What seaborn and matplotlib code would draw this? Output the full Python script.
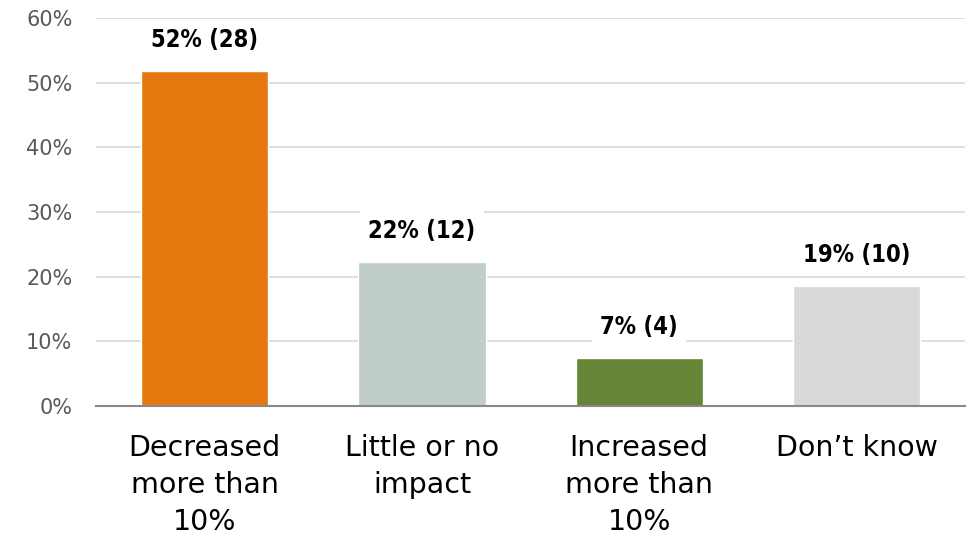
import pandas as pd
import numpy as np
import seaborn as sns
import matplotlib.pyplot as plt

categories = ["Decreased\nmore than\n10%", "Little or no\nimpact", "Increased\nmore than\n10%", "Don\u2019t know"]
counts = [28, 12, 4, 10]
shares = [51.85, 22.22, 7.41, 18.52]
labels = ["52% (28)", "22% (12)", "7% (4)", "19% (10)"]
colors = ["#e4780f", "#c1cec7", "#668536", "#d9d9d9"]

df = pd.DataFrame({"category": categories, "share": shares})

sns.set_theme(style="white")
plt.rcParams['font.family'] = ['DejaVu Sans']

fig = plt.figure(figsize=(9.7, 5.44), dpi=100)
ax = fig.add_axes([0.099, 0.254, 0.896, 0.713])

sns.barplot(data=df, x="category", y="share", hue="category", palette=colors,
            width=0.585, legend=False, ax=ax, zorder=2, saturation=1)

ax.set_ylim(0, 60)
ax.set_yticks(np.arange(0, 61, 10))
ax.set_yticklabels([f"{v}%" for v in range(0, 61, 10)], color="#595959", fontsize=15)
ax.yaxis.grid(True, color="#d9d9d9", linewidth=1.2, zorder=0)
ax.set_axisbelow(True)
ax.set_xlabel("")
ax.set_ylabel("")
ax.set_xlim(-0.5, 3.5)
ax.tick_params(axis="x", labelsize=20.5, pad=20, colors="black", length=0)
for t in ax.get_xticklabels():
    t.set_linespacing(1.42)
ax.tick_params(axis="y", length=0, pad=17)
for s in ["top", "right", "left"]:
    ax.spines[s].set_visible(False)
ax.spines["bottom"].set_color("#898989")
ax.spines["bottom"].set_linewidth(1.5)

# value labels sit on white boxes that cut the gridlines
for i, (v, lab) in enumerate(zip(shares, labels)):
    ax.text(i, v + 4.8, lab, ha="center", va="center", fontsize=17, color="black",
            family=['DejaVu Sans Condensed', 'Liberation Sans Narrow', 'DejaVu Sans'],
            fontstretch="condensed", fontweight="bold",
            bbox=dict(boxstyle="square,pad=0.35", fc="white", ec="none"), zorder=3)

fig.savefig("out.png", dpi=100)
